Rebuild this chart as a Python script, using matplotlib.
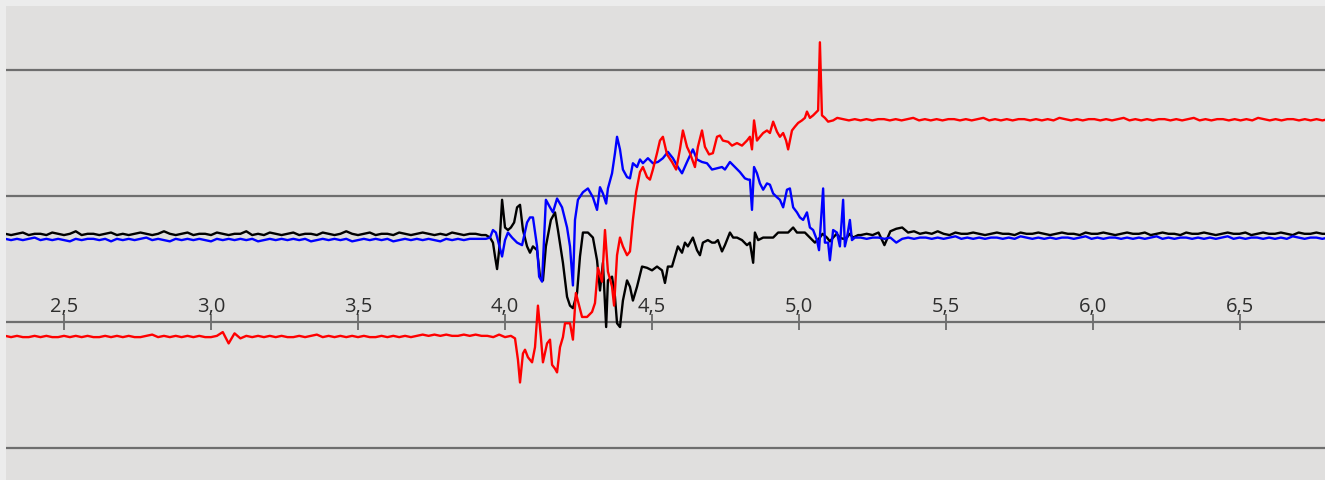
import numpy as np
import matplotlib
matplotlib.use("Agg")
import matplotlib.pyplot as plt

plt.rcParams['font.family'] = ['Open Sans', 'DejaVu Sans']

# time axis ticks (decimal comma labels)
tick_vals = [2.5, 3.0, 3.5, 4.0, 4.5, 5.0, 5.5, 6.0, 6.5]
tick_labels = ['2,5', '3,0', '3,5', '4,0', '4,5', '5,0', '5,5', '6,0', '6,5']
grid_levels = [-1, 0, 1, 2]

# quiet part before the event (sampled every 0.02 from 2.30 to 3.92)
black_pre = [0.70, 0.69, 0.70, 0.71, 0.69, 0.70, 0.70, 0.69, 0.71, 0.70,
             0.69, 0.70, 0.72, 0.69, 0.70, 0.70, 0.69, 0.70, 0.71, 0.69,
             0.70, 0.69, 0.70, 0.71, 0.70, 0.69, 0.70, 0.72, 0.70, 0.69,
             0.70, 0.71, 0.69, 0.70, 0.70, 0.69, 0.71, 0.70, 0.69, 0.70,
             0.70, 0.72, 0.69, 0.70, 0.69, 0.71, 0.70, 0.69, 0.70, 0.71,
             0.69, 0.70, 0.70, 0.69, 0.71, 0.70, 0.69, 0.70, 0.72, 0.70,
             0.69, 0.70, 0.71, 0.69, 0.70, 0.70, 0.69, 0.71, 0.70, 0.69,
             0.70, 0.71, 0.70, 0.69, 0.70, 0.69, 0.71, 0.70, 0.69, 0.70,
             0.70, 0.69]
blue_pre = [0.66, 0.65, 0.66, 0.65, 0.66, 0.67, 0.65, 0.66, 0.65, 0.66,
            0.65, 0.64, 0.66, 0.65, 0.66, 0.66, 0.65, 0.66, 0.64, 0.66,
            0.65, 0.66, 0.65, 0.66, 0.67, 0.65, 0.66, 0.65, 0.64, 0.66,
            0.65, 0.66, 0.65, 0.66, 0.65, 0.64, 0.66, 0.65, 0.66, 0.65,
            0.66, 0.65, 0.66, 0.64, 0.65, 0.66, 0.65, 0.66, 0.65, 0.66,
            0.65, 0.66, 0.64, 0.65, 0.66, 0.65, 0.66, 0.65, 0.66, 0.64,
            0.65, 0.66, 0.65, 0.66, 0.65, 0.66, 0.64, 0.65, 0.66, 0.65,
            0.66, 0.65, 0.66, 0.65, 0.64, 0.66, 0.65, 0.66, 0.65, 0.66,
            0.66, 0.66]
red_pre = [-0.11, -0.12, -0.11, -0.12, -0.12, -0.11, -0.12, -0.11, -0.12, -0.12,
           -0.11, -0.12, -0.11, -0.12, -0.11, -0.12, -0.12, -0.11, -0.12, -0.11,
           -0.12, -0.11, -0.12, -0.12, -0.11, -0.10, -0.12, -0.11, -0.12, -0.11,
           -0.12, -0.11, -0.12, -0.11, -0.12, -0.12, -0.11, -0.08, -0.17, -0.09,
           -0.13, -0.11, -0.12, -0.11, -0.12, -0.11, -0.12, -0.11, -0.12, -0.12,
           -0.11, -0.12, -0.11, -0.10, -0.12, -0.11, -0.12, -0.11, -0.12, -0.11,
           -0.12, -0.11, -0.12, -0.12, -0.11, -0.12, -0.11, -0.12, -0.11, -0.12,
           -0.11, -0.10, -0.11, -0.10, -0.11, -0.10, -0.11, -0.11, -0.10, -0.11,
           -0.10, -0.11]

# the event itself, (time, value)
black_event = [
    (3.935, 0.69), (3.949, 0.67), (3.959, 0.63), (3.966, 0.52), (3.973, 0.42),
    (3.980, 0.57), (3.990, 0.97), (4.000, 0.75), (4.010, 0.73), (4.020, 0.75),
    (4.031, 0.79), (4.041, 0.91), (4.051, 0.93), (4.061, 0.73), (4.075, 0.60),
    (4.085, 0.55), (4.095, 0.60), (4.109, 0.57), (4.119, 0.36), (4.129, 0.33),
    (4.139, 0.60), (4.156, 0.81), (4.170, 0.87), (4.180, 0.73), (4.197, 0.47),
    (4.211, 0.20), (4.221, 0.13), (4.231, 0.11), (4.245, 0.23), (4.255, 0.52),
    (4.265, 0.71), (4.282, 0.71), (4.299, 0.67), (4.313, 0.49), (4.323, 0.25),
    (4.333, 0.47), (4.344, -0.04), (4.350, 0.33), (4.364, 0.36), (4.374, 0.20),
    (4.381, -0.01), (4.391, -0.04), (4.401, 0.17), (4.415, 0.33), (4.425, 0.28),
    (4.435, 0.17), (4.449, 0.28), (4.466, 0.44), (4.483, 0.43), (4.500, 0.41),
    (4.517, 0.44), (4.534, 0.41), (4.544, 0.31), (4.554, 0.44), (4.568, 0.44),
    (4.578, 0.52), (4.588, 0.60), (4.602, 0.55), (4.612, 0.63), (4.622, 0.60),
    (4.639, 0.67), (4.653, 0.57), (4.663, 0.53), (4.673, 0.63), (4.690, 0.65),
    (4.704, 0.63), (4.714, 0.63), (4.724, 0.65), (4.738, 0.56), (4.748, 0.61),
    (4.765, 0.71), (4.776, 0.67), (4.789, 0.67), (4.806, 0.65), (4.823, 0.61),
    (4.833, 0.63), (4.844, 0.47), (4.850, 0.71), (4.861, 0.65), (4.878, 0.67),
    (4.895, 0.67), (4.912, 0.67), (4.929, 0.71), (4.946, 0.71), (4.963, 0.71),
    (4.980, 0.75), (4.993, 0.71), (5.003, 0.71), (5.020, 0.71), (5.037, 0.67),
    (5.054, 0.63), (5.071, 0.67), (5.080, 0.70), (5.095, 0.67), (5.105, 0.64),
    (5.116, 0.67), (5.128, 0.70), (5.139, 0.67), (5.150, 0.66), (5.163, 0.67),
    (5.172, 0.70), (5.184, 0.67), (5.201, 0.69),
]
blue_event = [
    (3.935, 0.66), (3.949, 0.67), (3.959, 0.73), (3.969, 0.71), (3.990, 0.52),
    (4.000, 0.65), (4.010, 0.71), (4.024, 0.67), (4.041, 0.63), (4.058, 0.61),
    (4.075, 0.79), (4.085, 0.83), (4.095, 0.83), (4.109, 0.60), (4.116, 0.36),
    (4.126, 0.32), (4.139, 0.97), (4.153, 0.91), (4.163, 0.87), (4.177, 0.98),
    (4.194, 0.91), (4.211, 0.75), (4.221, 0.60), (4.231, 0.29), (4.238, 0.81),
    (4.248, 0.97), (4.265, 1.03), (4.282, 1.06), (4.299, 0.99), (4.313, 0.89),
    (4.323, 1.07), (4.333, 1.02), (4.344, 0.94), (4.350, 1.06), (4.364, 1.18),
    (4.374, 1.34), (4.381, 1.47), (4.391, 1.37), (4.401, 1.21), (4.415, 1.15),
    (4.425, 1.14), (4.435, 1.26), (4.449, 1.23), (4.459, 1.29), (4.469, 1.26),
    (4.486, 1.30), (4.503, 1.26), (4.520, 1.27), (4.537, 1.30), (4.554, 1.35),
    (4.571, 1.30), (4.588, 1.23), (4.602, 1.18), (4.619, 1.27), (4.639, 1.37),
    (4.653, 1.29), (4.670, 1.27), (4.687, 1.26), (4.704, 1.21), (4.721, 1.22),
    (4.738, 1.23), (4.748, 1.21), (4.765, 1.27), (4.782, 1.23), (4.799, 1.19),
    (4.816, 1.14), (4.827, 1.13), (4.833, 1.13), (4.840, 0.89), (4.847, 1.23),
    (4.857, 1.18), (4.867, 1.10), (4.878, 1.05), (4.891, 1.10), (4.901, 1.09),
    (4.912, 1.02), (4.925, 0.99), (4.935, 0.97), (4.946, 0.91), (4.959, 1.05),
    (4.969, 1.06), (4.980, 0.91), (4.993, 0.87), (5.003, 0.83), (5.014, 0.81),
    (5.027, 0.87), (5.037, 0.75), (5.048, 0.73), (5.061, 0.65), (5.068, 0.57),
    (5.082, 1.06), (5.088, 0.63), (5.099, 0.63), (5.105, 0.49), (5.116, 0.73),
    (5.129, 0.71), (5.139, 0.60), (5.150, 0.97), (5.156, 0.60), (5.163, 0.67),
    (5.173, 0.81), (5.180, 0.65), (5.190, 0.67),
]
red_event = [
    (3.940, -0.11), (3.960, -0.12), (3.980, -0.10), (4.000, -0.12), (4.020, -0.11),
    (4.034, -0.13), (4.044, -0.30), (4.051, -0.48), (4.061, -0.25), (4.068, -0.22),
    (4.078, -0.28), (4.092, -0.32), (4.102, -0.20), (4.112, 0.13), (4.122, -0.12),
    (4.129, -0.32), (4.143, -0.17), (4.153, -0.14), (4.160, -0.34), (4.170, -0.37),
    (4.177, -0.40), (4.187, -0.20), (4.197, -0.12), (4.204, -0.01), (4.221, -0.01),
    (4.231, -0.14), (4.241, 0.23), (4.252, 0.13), (4.262, 0.04), (4.279, 0.04),
    (4.296, 0.08), (4.306, 0.15), (4.316, 0.43), (4.330, 0.32), (4.340, 0.73),
    (4.350, 0.40), (4.364, 0.28), (4.371, 0.13), (4.381, 0.53), (4.391, 0.67),
    (4.401, 0.60), (4.415, 0.53), (4.425, 0.56), (4.435, 0.81), (4.446, 1.03),
    (4.459, 1.19), (4.469, 1.23), (4.483, 1.15), (4.493, 1.13), (4.503, 1.21),
    (4.517, 1.34), (4.527, 1.44), (4.537, 1.47), (4.551, 1.33), (4.568, 1.27),
    (4.582, 1.21), (4.595, 1.37), (4.605, 1.52), (4.619, 1.39), (4.629, 1.34),
    (4.646, 1.23), (4.656, 1.39), (4.670, 1.52), (4.680, 1.39), (4.694, 1.33),
    (4.707, 1.34), (4.721, 1.47), (4.731, 1.48), (4.741, 1.44), (4.759, 1.43),
    (4.772, 1.40), (4.789, 1.42), (4.806, 1.40), (4.823, 1.44), (4.833, 1.47),
    (4.840, 1.37), (4.847, 1.60), (4.857, 1.44), (4.867, 1.47), (4.878, 1.50),
    (4.891, 1.52), (4.901, 1.50), (4.912, 1.59), (4.925, 1.51), (4.935, 1.47),
    (4.946, 1.50), (4.956, 1.44), (4.963, 1.37), (4.976, 1.52), (4.986, 1.55),
    (4.997, 1.58), (5.010, 1.60), (5.020, 1.62), (5.027, 1.67), (5.037, 1.62),
    (5.048, 1.64), (5.061, 1.67), (5.065, 1.68), (5.071, 2.22), (5.078, 1.64),
    (5.088, 1.62), (5.099, 1.59), (5.116, 1.60),
]

# settled part after the event (every ~0.02 up to 6.80)
black_post = [0.69, 0.70, 0.69, 0.71, 0.61, 0.72, 0.74, 0.75, 0.71, 0.72,
              0.70, 0.71, 0.70, 0.72, 0.70, 0.69, 0.71, 0.70, 0.70, 0.71,
              0.70, 0.69, 0.70, 0.71, 0.70, 0.70, 0.69, 0.71, 0.70, 0.70,
              0.71, 0.70, 0.69, 0.70, 0.71, 0.70, 0.70, 0.69, 0.71, 0.70,
              0.70, 0.71, 0.70, 0.69, 0.70, 0.71, 0.70, 0.70, 0.71, 0.69,
              0.70, 0.71, 0.70, 0.70, 0.69, 0.71, 0.70, 0.70, 0.71, 0.70,
              0.69, 0.70, 0.71, 0.70, 0.70, 0.71, 0.69, 0.70, 0.71, 0.70,
              0.70, 0.71, 0.70, 0.69, 0.71, 0.70, 0.70, 0.71, 0.70, 0.70]
blue_post = [0.67, 0.66, 0.67, 0.67, 0.66, 0.67, 0.63, 0.66, 0.67, 0.66,
             0.67, 0.67, 0.66, 0.67, 0.66, 0.67, 0.68, 0.66, 0.67, 0.66,
             0.67, 0.66, 0.67, 0.67, 0.66, 0.67, 0.66, 0.68, 0.67, 0.66,
             0.67, 0.66, 0.67, 0.66, 0.67, 0.67, 0.66, 0.67, 0.68, 0.66,
             0.67, 0.66, 0.67, 0.67, 0.66, 0.67, 0.66, 0.67, 0.66, 0.67,
             0.68, 0.66, 0.67, 0.66, 0.67, 0.67, 0.66, 0.67, 0.66, 0.67,
             0.66, 0.67, 0.68, 0.66, 0.67, 0.66, 0.67, 0.67, 0.66, 0.67,
             0.66, 0.67, 0.66, 0.68, 0.67, 0.66, 0.67, 0.67, 0.66, 0.67]
red_post = [1.62, 1.61, 1.60, 1.61, 1.60, 1.61, 1.60, 1.61, 1.61, 1.60,
            1.61, 1.60, 1.61, 1.62, 1.60, 1.61, 1.60, 1.61, 1.60, 1.61,
            1.61, 1.60, 1.61, 1.60, 1.61, 1.62, 1.60, 1.61, 1.60, 1.61,
            1.60, 1.61, 1.61, 1.60, 1.61, 1.60, 1.61, 1.60, 1.62, 1.61,
            1.60, 1.61, 1.60, 1.61, 1.61, 1.60, 1.61, 1.60, 1.61, 1.62,
            1.60, 1.61, 1.60, 1.61, 1.60, 1.61, 1.61, 1.60, 1.61, 1.60,
            1.61, 1.62, 1.60, 1.61, 1.60, 1.61, 1.61, 1.60, 1.61, 1.60,
            1.61, 1.60, 1.62, 1.61, 1.60, 1.61, 1.60, 1.61, 1.61, 1.60,
            1.61, 1.60, 1.61, 1.60, 1.61]


def build(pre, event, post, t_pre, t_post):
    t = np.concatenate([np.linspace(t_pre[0], t_pre[1], len(pre)),
                        [p[0] for p in event],
                        np.linspace(t_post[0], t_post[1], len(post))])
    v = np.concatenate([pre, [p[1] for p in event], post])
    return t, v


t_black, v_black = build(black_pre, black_event, black_post, (2.30, 3.92), (5.21, 6.80))
t_blue, v_blue = build(blue_pre, blue_event, blue_post, (2.30, 3.92), (5.21, 6.80))
t_red, v_red = build(red_pre, red_event, red_post, (2.30, 3.92), (5.13, 6.80))

fig = plt.figure(figsize=(13.25, 4.8), dpi=100, facecolor='#ececec')
ax = fig.add_axes([6 / 1325, 0, 1319 / 1325, 474 / 480])
ax.set_facecolor('#e0dfde')

ax.plot(t_black, v_black, color='black', lw=1.7, zorder=3)
ax.plot(t_blue, v_blue, color='#0000ff', lw=1.7, zorder=4)
ax.plot(t_red, v_red, color='#ff0000', lw=1.7, zorder=5)

ax.set_xlim(2.3027, 6.789)
ax.set_ylim(-1.254, 2.508)

# horizontal grid
ax.set_yticks(grid_levels)
ax.tick_params(axis='y', left=False, labelleft=False)
ax.grid(axis='y', color='#6e6e6e', lw=1.6)
ax.set_axisbelow(True)

for s in ['left', 'right', 'bottom']:
    ax.spines[s].set_visible(False)
# time axis sits on the zero line, labels above it
ax.spines['top'].set_position(('data', 0))
ax.spines['top'].set_visible(False)
ax.xaxis.set_ticks_position('top')
ax.set_xticks(tick_vals)
ax.set_xticklabels(tick_labels)
ax.tick_params(axis='x', direction='inout', length=11, width=1.1, color='#555555',
               labelsize=14.5, labelcolor='#2e2e2e', pad=-2)

fig.savefig('out.png', dpi=100, facecolor=fig.get_facecolor())
